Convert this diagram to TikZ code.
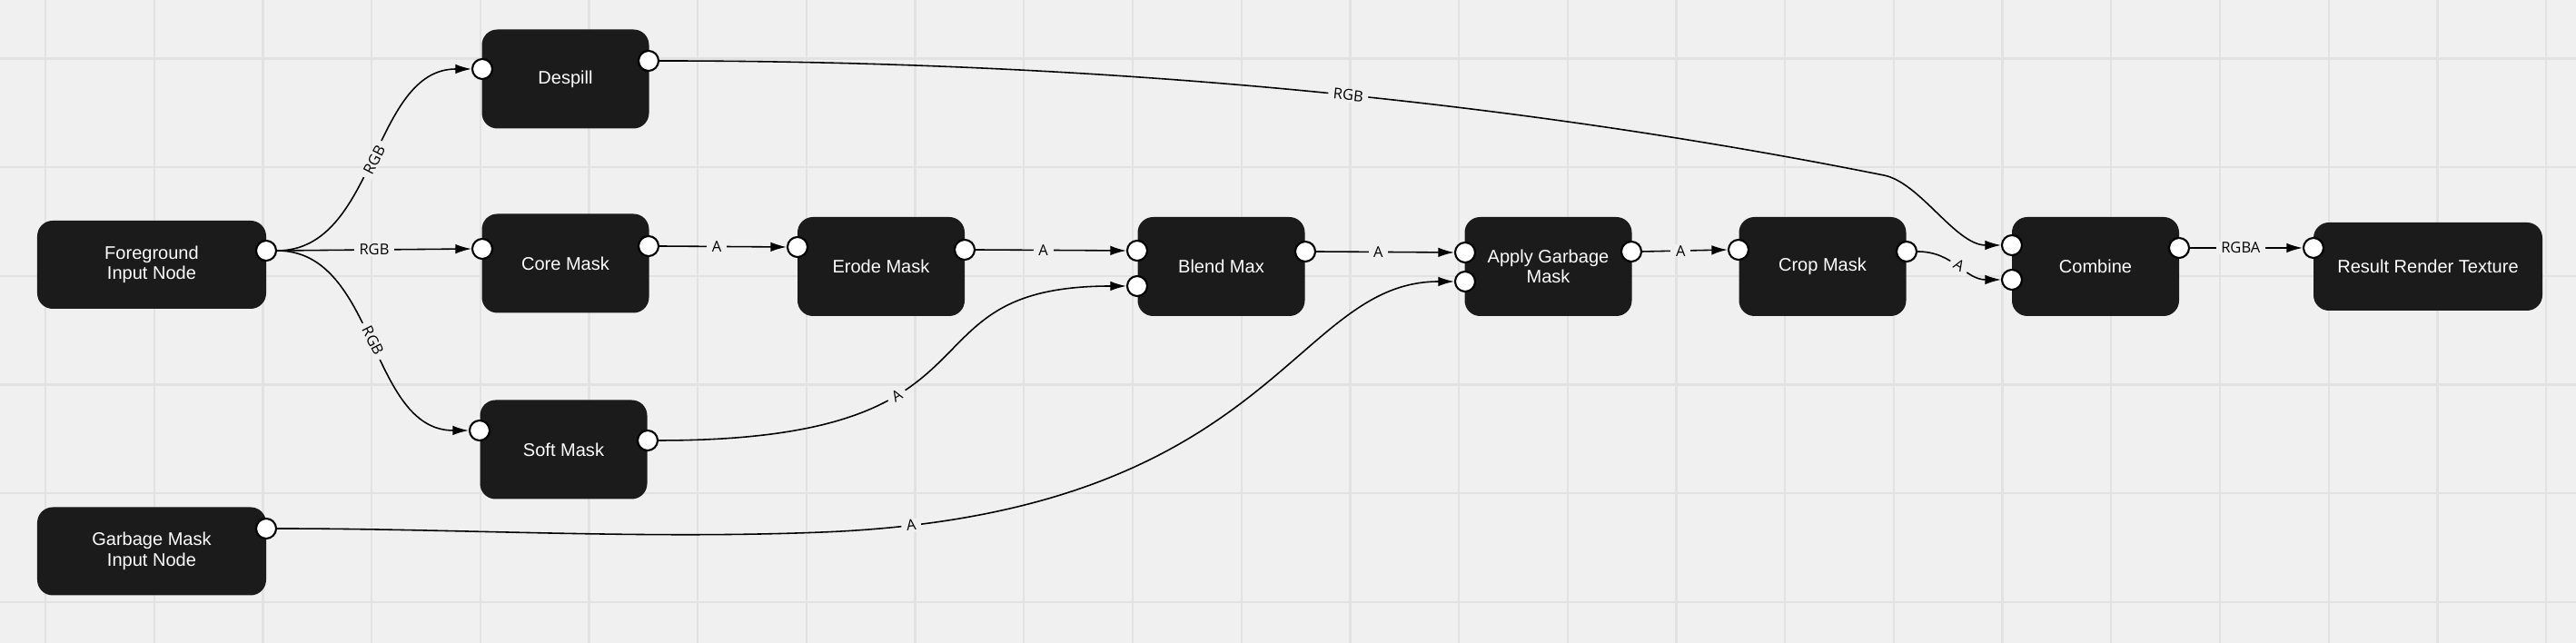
\documentclass[tikz,border=0pt]{standalone}
\usepackage{fontspec}
\setmainfont{Liberation Sans}
\newfontfamily\edgefont{Open Sans}
\usepackage{xcolor}
\definecolor{canvasgray}{RGB}{240,240,240}
\definecolor{gridgray}{RGB}{226,226,226}
\definecolor{nodeblack}{RGB}{27,27,27}
\usetikzlibrary{arrows.meta,positioning,calc}

\begin{document}
\begin{tikzpicture}[
  block/.style={rectangle, rounded corners=0.17cm, fill=nodeblack, text=white, minimum width=1.84cm, minimum height=1.09cm, align=center, inner sep=0pt, font=\fontsize{5.7}{6.4}\selectfont},
  iobox/.style={block, minimum width=2.52cm, minimum height=0.97cm},
  port/.style={circle, draw=black, line width=0.6pt, fill=white, inner sep=0pt, minimum size=0.22cm},
  wire/.style={draw=black, line width=0.45pt, -{Latex[length=5pt,width=3pt]}},
  lbl/.style={fill=canvasgray, inner xsep=1.6pt, inner ysep=0.4pt, text=black, font=\edgefont\fontsize{4.7}{5}\selectfont}
]
  % Canvas and grid
  \fill[canvasgray] (0,0) rectangle (28.36,7.08);
  \useasboundingbox (0,0) rectangle (28.36,7.08);
  \foreach \k in {0,...,23}
    \draw[gridgray, line width=0.65pt] ({0.50+1.197*\k},0) -- ({0.50+1.197*\k},7.08);
  \foreach \k in {0,...,5}
    \draw[gridgray, line width=0.65pt] (0,{6.435-1.197*\k}) -- (28.36,{6.435-1.197*\k});

  % Input nodes
  \node[iobox] (fg) at (1.67,4.165) {Foreground\\Input Node};
  \node[iobox] (gmask) at (1.67,1.01) {Garbage Mask\\Input Node};

  % Processing nodes
  \node[block] (despill) at (6.225,6.21) {Despill};
  \node[block] (core) at (6.225,4.18) {Core Mask};
  \node[block] (soft) at (6.205,2.13) {Soft Mask};
  \node[block] (erode) at (9.70,4.145) {Erode Mask};
  \node[block] (blend) at (13.445,4.145) {Blend Max};
  \node[block] (apply) at (17.045,4.145) {Apply Garbage\\Mask};
  \node[block] (crop) at (20.065,4.145) {Crop Mask};
  \node[block] (combine) at (23.07,4.145) {Combine};

  % Output node
  \node[iobox] (result) at (26.73,4.145) {Result Render Texture};

  % Ports
  \node[port] (fg-out) at (2.93,4.32) {};
  \node[port] (gm-out) at (2.93,1.26) {};
  \node[port] (desp-in) at (5.31,6.32) {};
  \node[port] (desp-out) at (7.14,6.41) {};
  \node[port] (core-in) at (5.31,4.34) {};
  \node[port] (core-out) at (7.14,4.37) {};
  \node[port] (soft-in) at (5.28,2.34) {};
  \node[port] (soft-out) at (7.13,2.23) {};
  \node[port] (erode-in) at (8.78,4.36) {};
  \node[port] (erode-out) at (10.62,4.33) {};
  \node[port] (blend-in1) at (12.52,4.32) {};
  \node[port] (blend-in2) at (12.52,3.93) {};
  \node[port] (blend-out) at (14.37,4.31) {};
  \node[port] (apply-in1) at (16.13,4.30) {};
  \node[port] (apply-in2) at (16.13,3.98) {};
  \node[port] (apply-out) at (17.96,4.31) {};
  \node[port] (crop-in) at (19.14,4.33) {};
  \node[port] (crop-out) at (20.99,4.31) {};
  \node[port] (comb-in1) at (22.15,4.38) {};
  \node[port] (comb-in2) at (22.15,4.00) {};
  \node[port] (comb-out) at (23.99,4.35) {};
  \node[port] (res-in) at (25.47,4.35) {};

  % Bend points of the long wires
  \coordinate (dc-bend) at (20.74,5.15);
  \coordinate (gm-bend) at (9.05,1.22);

  % Foreground fan-out
  \draw[wire] (fg-out.east) .. controls +(1.1,0) and +(-1.1,0) .. (desp-in.west) node[lbl, pos=0.5, sloped] {RGB};
  \draw[wire] (fg-out.east) -- (core-in.west) node[lbl, pos=0.5] {RGB};
  \draw[wire] (fg-out.east) .. controls +(1.1,0) and +(-1.1,0) .. (soft-in.west) node[lbl, pos=0.5, sloped] {RGB};

  % Alpha chain
  \draw[wire] (core-out.east) -- (erode-in.west) node[lbl, pos=0.45] {A};
  \draw[wire] (erode-out.east) -- (blend-in1.west) node[lbl, pos=0.45] {A};
  \draw[wire] (soft-out.east) .. controls +(4.0,0) and +(-2.6,0) .. (blend-in2.west) node[lbl, pos=0.355, sloped] {A};
  \draw[wire] (blend-out.east) -- (apply-in1.west) node[lbl, pos=0.45] {A};
  \draw[wire] (gm-out.east) .. controls +(2,0) and +(-2,-0.08) .. (gm-bend)
    .. controls +(5,0.2) and +(-1.8,0) .. (apply-in2.west) node[lbl, pos=0.07, sloped] {A};
  \draw[wire] (apply-out.east) -- (crop-in.west) node[lbl, pos=0.45] {A};
  \draw[wire] (crop-out.east) .. controls +(0.4,0) and +(-0.4,0) .. (comb-in2.west) node[lbl, pos=0.5, sloped] {A};

  % Despill colour into combine
  \draw[wire] (desp-out.east) .. controls +(4.4,0) and +(-4.5,0.9) .. (dc-bend) node[lbl, pos=0.565, sloped] {RGB}
    .. controls +(0.4,-0.08) and +(-0.5,0) .. (comb-in1.west);

  % Output
  \draw[wire] (comb-out.east) -- (res-in.west) node[lbl, pos=0.45] {RGBA};
\end{tikzpicture}
\end{document}
